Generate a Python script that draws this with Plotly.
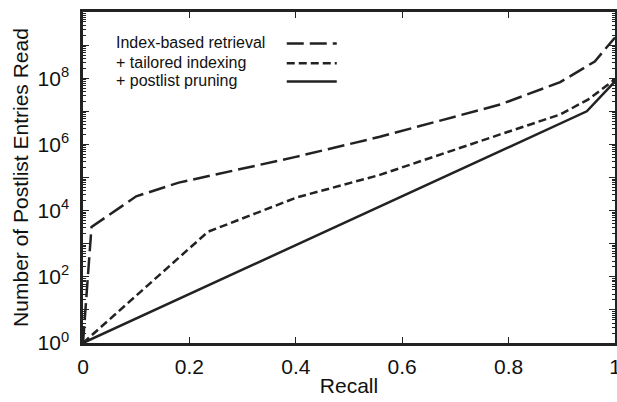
import plotly.graph_objects as go

recall_index = [0, 0.016, 0.1, 0.18, 0.4, 0.558, 0.784, 0.897, 0.962, 1.0]
entries_index = [1, 3200, 2.7e4, 7e4, 4.2e5, 1.7e6, 1.6e7, 7.6e7, 3.2e8, 1.7e9]

recall_tailored = [0, 0.235, 0.402, 0.558, 0.784, 0.897, 0.95, 1.0]
entries_tailored = [1, 2300, 2.5e4, 1.2e5, 2e6, 8e6, 2.3e7, 9.3e7]

recall_pruning = [0, 0.947, 1.0]
entries_pruning = [1, 1e7, 8e7]

series_names = ["Index-based retrieval", "+ tailored indexing", "+ postlist pruning"]
dashes = ["17px,6px", "8px,4px", "solid"]

x_ticks = [0, 0.2, 0.4, 0.6, 0.8, 1]
x_ticktext = ["0", "0.2", "0.4", "0.6", "0.8", "1"]
y_ticks = [10 ** k for k in range(0, 11)]
y_ticktext = [("10<sup>%d</sup>" % k) if k % 2 == 0 and k <= 8 else "" for k in range(0, 11)]
y_minor = [m * 10 ** k for k in range(0, 10) for m in range(2, 10)]

FONT = "Liberation Sans, Arial, sans-serif"
color = "#222222"
fig = go.Figure()
data = [(recall_index, entries_index), (recall_tailored, entries_tailored), (recall_pruning, entries_pruning)]
for (xs, ys), name, d in zip(data, series_names, dashes):
    fig.add_trace(go.Scatter(x=xs, y=ys, mode="lines", name=name, cliponaxis=True,
                             line=dict(color=color, width=2.5, dash=d), showlegend=False))

# custom legend: text on left, line sample on right
legend_y = [0.908, 0.848, 0.793]
for name, d, yy in zip(series_names, dashes, legend_y):
    fig.add_annotation(x=0.058, y=yy, xref="paper", yref="paper", text=name,
                       showarrow=False, xanchor="left", yanchor="middle",
                       font=dict(family=FONT, size=16, color="#111"))
    fig.add_shape(type="line", xref="paper", yref="paper", x0=0.383, x1=0.477, y0=yy - 0.003, y1=yy - 0.003,
                  line=dict(color=color, width=2.5, dash=d))

axis_common = dict(showline=True, linecolor="#222", linewidth=2.5, mirror="ticks",
                   ticks="inside", tickcolor="#222", tickwidth=1, showgrid=False, zeroline=False,
                   automargin=False, ticklabeloverflow="allow",
                   tickfont=dict(family=FONT, size=21, color="#111"),
                   title_font=dict(family=FONT, size=21, color="#111"))

fig.update_xaxes(range=[0, 1], tickvals=x_ticks, ticktext=x_ticktext, ticklen=6,
                 ticklabelstandoff=3,
                 title_text="Recall", title_standoff=2, **axis_common)
fig.update_yaxes(type="log", range=[0, 10], tickvals=y_ticks, ticktext=y_ticktext, ticklen=6,
                 ticklabelstandoff=7,
                 minor=dict(tickvals=y_minor, ticks="inside", ticklen=3, tickcolor="#222", tickwidth=1),
                 title_text="Number of Postlist Entries Read", title_standoff=4, **axis_common)

fig.update_layout(width=617, height=402, margin=dict(l=83, r=2, t=12, b=59),
                  plot_bgcolor="white", paper_bgcolor="white")
fig.write_html("out.html", config={"displayModeBar": False},
               post_script="document.body.style.margin='0';document.body.style.overflow='hidden';")
